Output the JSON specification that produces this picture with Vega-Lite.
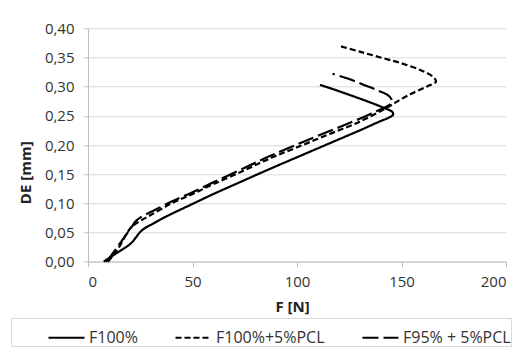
{
  "$schema": "https://vega.github.io/schema/vega-lite/v6.json",
  "width": 418,
  "height": 233.4,
  "autosize": {"type": "none"},
  "padding": {"left": 88, "top": 28.3, "right": 22, "bottom": 89.3},
  "config": {
    "locale": {"number": {"decimal": ",", "thousands": ".", "grouping": [3], "currency": ["", ""]}},
    "view": {"stroke": null},
    "font": "Open Sans"
  },
  "data": {
    "values": [
      {"series": "F100%", "i": 1, "F": 7.5, "D": 0},
      {"series": "F100%", "i": 2, "F": 10, "D": 0.006},
      {"series": "F100%", "i": 3, "F": 13, "D": 0.013},
      {"series": "F100%", "i": 4, "F": 16, "D": 0.02},
      {"series": "F100%", "i": 5, "F": 19, "D": 0.027},
      {"series": "F100%", "i": 6, "F": 21, "D": 0.033},
      {"series": "F100%", "i": 7, "F": 23, "D": 0.042},
      {"series": "F100%", "i": 8, "F": 25, "D": 0.051},
      {"series": "F100%", "i": 9, "F": 27, "D": 0.057},
      {"series": "F100%", "i": 10, "F": 30, "D": 0.063},
      {"series": "F100%", "i": 11, "F": 35, "D": 0.073},
      {"series": "F100%", "i": 12, "F": 40, "D": 0.082},
      {"series": "F100%", "i": 13, "F": 50, "D": 0.099},
      {"series": "F100%", "i": 14, "F": 60, "D": 0.116},
      {"series": "F100%", "i": 15, "F": 70, "D": 0.132},
      {"series": "F100%", "i": 16, "F": 87, "D": 0.159},
      {"series": "F100%", "i": 17, "F": 100, "D": 0.179},
      {"series": "F100%", "i": 18, "F": 115, "D": 0.202},
      {"series": "F100%", "i": 19, "F": 130, "D": 0.225},
      {"series": "F100%", "i": 20, "F": 140, "D": 0.241},
      {"series": "F100%", "i": 21, "F": 144, "D": 0.247},
      {"series": "F100%", "i": 22, "F": 146, "D": 0.252},
      {"series": "F100%", "i": 23, "F": 145.5, "D": 0.257},
      {"series": "F100%", "i": 24, "F": 142, "D": 0.263},
      {"series": "F100%", "i": 25, "F": 135, "D": 0.273},
      {"series": "F100%", "i": 26, "F": 125, "D": 0.286},
      {"series": "F100%", "i": 27, "F": 117, "D": 0.296},
      {"series": "F100%", "i": 28, "F": 111, "D": 0.303},

      {"series": "F100%+5%PCL", "i": 1, "F": 9.5, "D": 0},
      {"series": "F100%+5%PCL", "i": 2, "F": 12, "D": 0.01},
      {"series": "F100%+5%PCL", "i": 3, "F": 14, "D": 0.02},
      {"series": "F100%+5%PCL", "i": 4, "F": 16, "D": 0.032},
      {"series": "F100%+5%PCL", "i": 5, "F": 18, "D": 0.045},
      {"series": "F100%+5%PCL", "i": 6, "F": 20, "D": 0.056},
      {"series": "F100%+5%PCL", "i": 7, "F": 22, "D": 0.063},
      {"series": "F100%+5%PCL", "i": 8, "F": 25, "D": 0.07},
      {"series": "F100%+5%PCL", "i": 9, "F": 30, "D": 0.08},
      {"series": "F100%+5%PCL", "i": 10, "F": 40, "D": 0.1},
      {"series": "F100%+5%PCL", "i": 11, "F": 50, "D": 0.116},
      {"series": "F100%+5%PCL", "i": 12, "F": 60, "D": 0.133},
      {"series": "F100%+5%PCL", "i": 13, "F": 75, "D": 0.157},
      {"series": "F100%+5%PCL", "i": 14, "F": 87, "D": 0.177},
      {"series": "F100%+5%PCL", "i": 15, "F": 100, "D": 0.196},
      {"series": "F100%+5%PCL", "i": 16, "F": 115, "D": 0.218},
      {"series": "F100%+5%PCL", "i": 17, "F": 130, "D": 0.24},
      {"series": "F100%+5%PCL", "i": 18, "F": 143, "D": 0.264},
      {"series": "F100%+5%PCL", "i": 19, "F": 150, "D": 0.279},
      {"series": "F100%+5%PCL", "i": 20, "F": 156, "D": 0.29},
      {"series": "F100%+5%PCL", "i": 21, "F": 162, "D": 0.3},
      {"series": "F100%+5%PCL", "i": 22, "F": 166.5, "D": 0.309},
      {"series": "F100%+5%PCL", "i": 23, "F": 165, "D": 0.317},
      {"series": "F100%+5%PCL", "i": 24, "F": 160, "D": 0.327},
      {"series": "F100%+5%PCL", "i": 25, "F": 150, "D": 0.34},
      {"series": "F100%+5%PCL", "i": 26, "F": 140, "D": 0.35},
      {"series": "F100%+5%PCL", "i": 27, "F": 130, "D": 0.36},
      {"series": "F100%+5%PCL", "i": 28, "F": 121, "D": 0.369},

      {"series": "F95% + 5%PCL", "i": 1, "F": 8.5, "D": 0},
      {"series": "F95% + 5%PCL", "i": 2, "F": 11, "D": 0.01},
      {"series": "F95% + 5%PCL", "i": 3, "F": 13, "D": 0.02},
      {"series": "F95% + 5%PCL", "i": 4, "F": 15, "D": 0.03},
      {"series": "F95% + 5%PCL", "i": 5, "F": 17, "D": 0.04},
      {"series": "F95% + 5%PCL", "i": 6, "F": 19, "D": 0.05},
      {"series": "F95% + 5%PCL", "i": 7, "F": 21, "D": 0.06},
      {"series": "F95% + 5%PCL", "i": 8, "F": 23, "D": 0.07},
      {"series": "F95% + 5%PCL", "i": 9, "F": 26, "D": 0.078},
      {"series": "F95% + 5%PCL", "i": 10, "F": 30, "D": 0.085},
      {"series": "F95% + 5%PCL", "i": 11, "F": 40, "D": 0.103},
      {"series": "F95% + 5%PCL", "i": 12, "F": 50, "D": 0.119},
      {"series": "F95% + 5%PCL", "i": 13, "F": 60, "D": 0.136},
      {"series": "F95% + 5%PCL", "i": 14, "F": 75, "D": 0.161},
      {"series": "F95% + 5%PCL", "i": 15, "F": 87, "D": 0.181},
      {"series": "F95% + 5%PCL", "i": 16, "F": 100, "D": 0.201},
      {"series": "F95% + 5%PCL", "i": 17, "F": 115, "D": 0.223},
      {"series": "F95% + 5%PCL", "i": 18, "F": 130, "D": 0.245},
      {"series": "F95% + 5%PCL", "i": 19, "F": 138, "D": 0.258},
      {"series": "F95% + 5%PCL", "i": 20, "F": 143, "D": 0.266},
      {"series": "F95% + 5%PCL", "i": 21, "F": 145.5, "D": 0.274},
      {"series": "F95% + 5%PCL", "i": 22, "F": 144, "D": 0.284},
      {"series": "F95% + 5%PCL", "i": 23, "F": 139, "D": 0.293},
      {"series": "F95% + 5%PCL", "i": 24, "F": 132, "D": 0.303},
      {"series": "F95% + 5%PCL", "i": 25, "F": 125, "D": 0.313},
      {"series": "F95% + 5%PCL", "i": 26, "F": 117, "D": 0.322}
    ]
  },
  "mark": {"type": "line", "interpolate": "catmull-rom", "strokeWidth": 2.2, "color": "black"},
  "encoding": {
    "x": {
      "field": "F", "type": "quantitative",
      "scale": {"domain": [0, 200]},
      "axis": {
        "values": [0, 50, 100, 150, 200], "grid": false,
        "domainColor": "#bfbfbf", "tickColor": "#bfbfbf", "tickSize": 5,
        "labelFontSize": 15, "labelColor": "#333", "labelPadding": 8,
        "title": "F [N]", "titleFontSize": 15, "titleFontWeight": "bold", "titleColor": "#222",
        "titleX": 204, "titleY": 45, "titleBaseline": "middle", "titleAlign": "center"
      }
    },
    "y": {
      "field": "D", "type": "quantitative",
      "scale": {"domain": [0, 0.4]},
      "axis": {
        "values": [0, 0.05, 0.1, 0.15, 0.2, 0.25, 0.3, 0.35, 0.4], "format": ".2f",
        "grid": true, "gridColor": "#d9d9d9",
        "domainColor": "#bfbfbf", "tickColor": "#bfbfbf", "tickSize": 5,
        "labelFontSize": 15, "labelColor": "#333", "labelPadding": 9,
        "title": "DE [mm]", "titleFontSize": 15, "titleFontWeight": "bold", "titleColor": "#222",
        "titleX": -63, "titleY": 144, "titleAngle": -90, "titleBaseline": "middle", "titleAlign": "center"
      }
    },
    "strokeDash": {
      "field": "series", "type": "nominal",
      "scale": {"domain": ["F100%", "F100%+5%PCL", "F95% + 5%PCL"], "range": [[1, 0], [6, 3], [16, 5]]},
      "legend": {
        "title": null, "orient": "none", "legendX": -77, "legendY": 289.7,
        "direction": "horizontal", "columns": 3,
        "symbolType": "stroke", "symbolSize": 1296, "symbolStrokeWidth": 2.2, "symbolStrokeColor": "black",
        "labelFontSize": 16, "labelColor": "#333", "labelOffset": 3,
        "columnPadding": -3, "padding": 0, "symbolOffset": 36,
        "strokeColor": "#d9d9d9"
      }
    },
    "order": {"field": "i", "type": "quantitative"}
  }
}
